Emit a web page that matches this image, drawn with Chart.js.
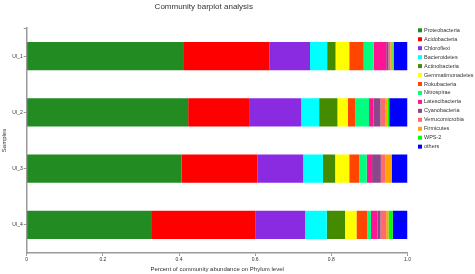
<!DOCTYPE html>
<html>
<head>
<meta charset="utf-8">
<script src="https://cdn.jsdelivr.net/npm/chart.js@4/dist/chart.umd.min.js"></script>
<style>
  body { margin: 0; background: #fff; }
  #wrap { width: 475px; height: 274px; position: relative; }
</style>
</head>
<body>
<div id="wrap"><canvas id="barplot"></canvas></div>
<script>
// samples (y axis) and phyla (stacks)
const samples = ["UI_1", "UI_2", "UI_3", "UI_4"];
const phyla = ["Proteobacteria", "Acidobacteria", "Chloroflexi", "Bacteroidetes", "Actinobacteria",
  "Gemmatimonadetes", "Rokubacteria", "Nitrospirae", "Latescibacteria", "Cyanobacteria",
  "Verrucomicrobia", "Firmicutes", "WPS-2", "others"];
const phylaColors = ["#228B22", "#FF0000", "#8A2BE2", "#00FFFF", "#458B00",
  "#FFFF00", "#FF4500", "#00FF7F", "#FF1493", "#8B4789",
  "#FF6A6A", "#FFA500", "#00FF00", "#0000FF"];

// relative abundance per sample, same order as phyla
const ui1 = [0.413, 0.225, 0.106, 0.045, 0.022, 0.036, 0.038, 0.026, 0.033, 0.006, 0.005, 0.005, 0.004, 0.036];
const ui2 = [0.424, 0.162, 0.135, 0.047, 0.048, 0.027, 0.020, 0.036, 0.012, 0.018, 0.013, 0.005, 0.005, 0.048];
const ui3 = [0.407, 0.199, 0.120, 0.052, 0.032, 0.037, 0.026, 0.020, 0.014, 0.023, 0.012, 0.015, 0.002, 0.041];
const ui4 = [0.329, 0.271, 0.131, 0.057, 0.048, 0.030, 0.028, 0.010, 0.017, 0.008, 0.015, 0.006, 0.011, 0.039];
const sampleValues = [ui1, ui2, ui3, ui4];

const xTicks = [0, 0.2, 0.4, 0.6, 0.8, 1];

const axisGrey = "#9a9a9a";
const textGrey = "#333";

// one dataset per phylum
const datasets = phyla.map((name, i) => ({
  label: name,
  data: sampleValues.map((vals) => vals[i]),
  backgroundColor: phylaColors[i],
  borderWidth: 0,
  categoryPercentage: 1,
  barPercentage: 0.5,
}));

// small legend on the right, drawn on the canvas (+ end tick on top of y axis)
const sideLegend = {
  id: "sideLegend",
  afterDraw(chart) {
    const ctx = chart.ctx;
    const area = chart.chartArea;
    ctx.save();
    ctx.strokeStyle = axisGrey;
    ctx.lineWidth = 1;
    ctx.beginPath();
    ctx.moveTo(area.left - 3, area.top + 0.5);
    ctx.lineTo(area.left, area.top + 0.5);
    ctx.stroke();

    ctx.font = "5.5px 'Liberation Sans', Arial, sans-serif";
    ctx.textBaseline = "middle";
    ctx.textAlign = "left";
    chart.data.datasets.forEach((ds, i) => {
      const y = 30.3 + i * 8.95;
      ctx.fillStyle = ds.backgroundColor;
      ctx.fillRect(418, y - 2, 4, 4);
      ctx.fillStyle = textGrey;
      ctx.fillText(ds.label, 424, y);
    });
    ctx.restore();
  },
};

const ctx = document.getElementById("barplot").getContext("2d");
new Chart(ctx, {
  type: "bar",
  data: { labels: samples, datasets: datasets },
  options: {
    indexAxis: "y",
    responsive: true,
    maintainAspectRatio: false,
    animation: false,
    layout: { padding: { left: 0, right: 67.5, top: 0, bottom: 0 } },
    plugins: {
      legend: { display: false },
      tooltip: { enabled: false },
      title: {
        display: true,
        text: "Community barplot analysis",
        color: textGrey,
        font: { family: "'Liberation Sans', Arial, sans-serif", size: 8, weight: "normal" },
        padding: { top: 2, bottom: 16.4 },
      },
    },
    scales: {
      x: {
        stacked: true,
        min: 0,
        max: 1,
        afterBuildTicks: (scale) => {
          scale.ticks = xTicks.map((v) => ({ value: v }));
        },
        afterFit: (scale) => { scale.height = 21; },
        grid: { drawOnChartArea: false, drawTicks: true, tickLength: 3, color: axisGrey, lineWidth: 1 },
        border: { color: axisGrey, width: 1.5 },
        ticks: {
          color: textGrey,
          padding: 1,
          maxRotation: 0,
          font: { family: "'Liberation Sans', Arial, sans-serif", size: 5 },
        },
        title: {
          display: true,
          text: "Percent of community abundance on Phylum level",
          color: textGrey,
          font: { family: "'Liberation Sans', Arial, sans-serif", size: 6 },
          padding: { top: 0, bottom: 1.1 },
        },
      },
      y: {
        stacked: true,
        offset: true,
        afterFit: (scale) => { scale.width = 26.7; },
        grid: { offset: false, drawOnChartArea: false, drawTicks: true, tickLength: 3, color: axisGrey, lineWidth: 1 },
        border: { color: axisGrey, width: 1.5 },
        ticks: {
          color: textGrey,
          padding: 1,
          font: { family: "'Liberation Sans', Arial, sans-serif", size: 5 },
        },
        title: {
          display: true,
          text: "Samples",
          color: textGrey,
          font: { family: "'Liberation Sans', Arial, sans-serif", size: 6 },
          padding: { top: 0.7, bottom: 0 },
        },
      },
    },
  },
  plugins: [sideLegend],
});
</script>
</body>
</html>
